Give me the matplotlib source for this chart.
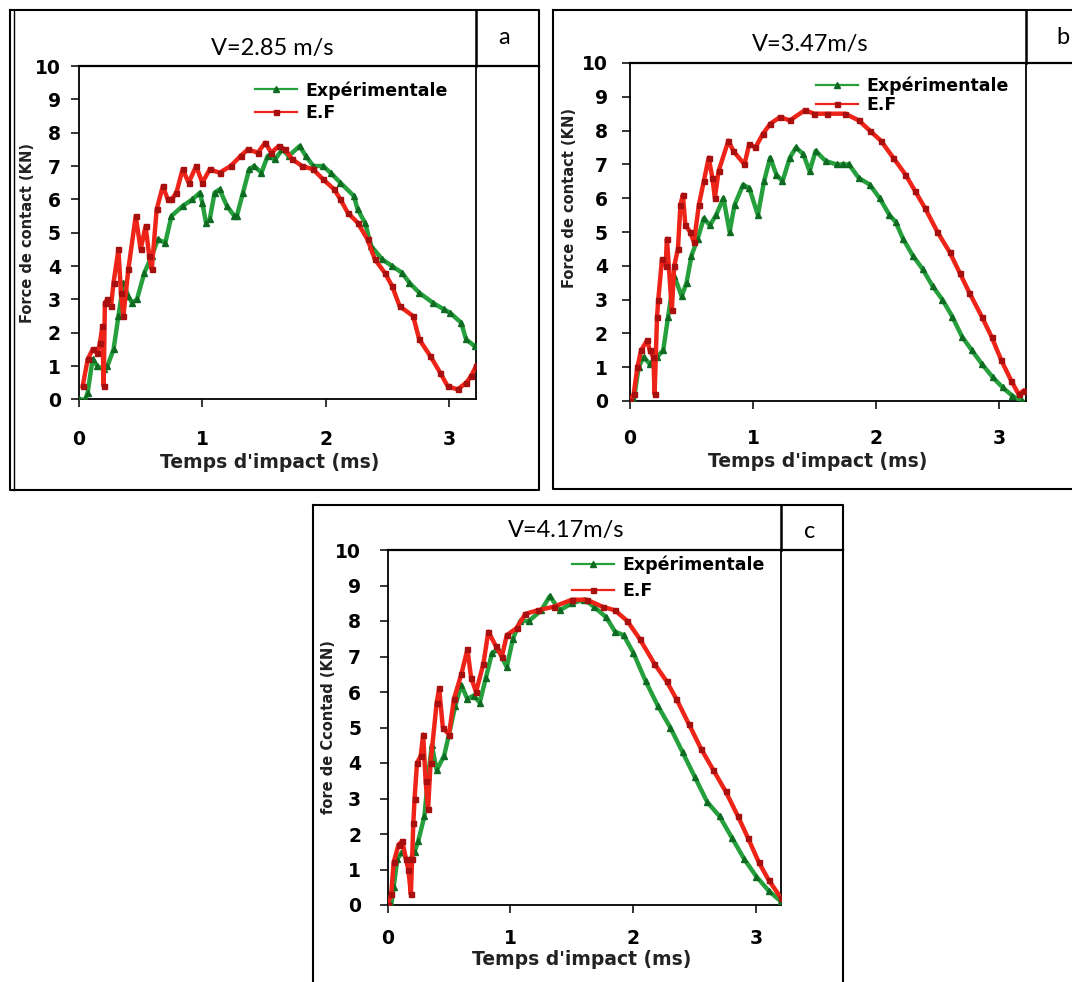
import matplotlib.pyplot as plt
from matplotlib.lines import Line2D

# ---- data (time in ms, force in kN) ----
# (a) V = 2.85 m/s
ta_exp = [0, 0.05, 0.07, 0.11, 0.15, 0.2, 0.23, 0.28, 0.32, 0.36,
          0.40, 0.43, 0.47, 0.53, 0.59, 0.64, 0.70, 0.75, 0.84, 0.92,
          0.98, 1.0, 1.03, 1.06, 1.10, 1.14, 1.20, 1.26, 1.28, 1.33,
          1.38, 1.42, 1.48, 1.53, 1.59, 1.65, 1.70, 1.79, 1.84, 1.90,
          1.98, 2.04, 2.12, 2.23, 2.26, 2.32, 2.37, 2.46, 2.54, 2.62,
          2.68, 2.76, 2.87, 2.96, 3.01, 3.10, 3.14, 3.21]
Fa_exp = [0, 0, 0.2, 1.2, 1.0, 0.9, 1.0, 1.5, 2.5, 3.5,
          3.1, 2.9, 3.0, 3.8, 4.3, 4.8, 4.7, 5.5, 5.8, 6.0,
          6.2, 5.9, 5.3, 5.4, 6.2, 6.3, 5.8, 5.5, 5.5, 6.2,
          6.9, 7.0, 6.8, 7.3, 7.2, 7.5, 7.3, 7.6, 7.3, 7.0,
          7.0, 6.8, 6.5, 6.1, 5.7, 5.3, 4.6, 4.2, 4.0, 3.8,
          3.5, 3.2, 2.9, 2.7, 2.6, 2.3, 1.8, 1.6]
ta_ef = [0.03, 0.07, 0.11, 0.15, 0.17, 0.19, 0.20, 0.21, 0.23, 0.26,
         0.28, 0.32, 0.34, 0.36, 0.40, 0.46, 0.50, 0.54, 0.57, 0.59,
         0.63, 0.68, 0.72, 0.75, 0.79, 0.84, 0.89, 0.95, 1.00, 1.06,
         1.14, 1.23, 1.31, 1.37, 1.45, 1.51, 1.56, 1.62, 1.67, 1.73,
         1.81, 1.90, 1.98, 2.07, 2.12, 2.18, 2.26, 2.34, 2.40, 2.48,
         2.54, 2.60, 2.71, 2.76, 2.85, 2.93, 2.99, 3.07, 3.14, 3.18, 3.22]
Fa_ef = [0.4, 1.2, 1.5, 1.4, 1.7, 2.2, 0.4, 2.9, 3.0, 2.8,
         3.5, 4.5, 3.2, 2.5, 3.9, 5.5, 4.5, 5.2, 4.3, 3.9,
         5.7, 6.4, 6.0, 6.0, 6.2, 6.9, 6.5, 7.0, 6.5, 6.9,
         6.8, 7.0, 7.3, 7.5, 7.4, 7.7, 7.4, 7.6, 7.5, 7.2,
         7.0, 6.9, 6.6, 6.3, 6.0, 5.6, 5.3, 4.8, 4.2, 3.8,
         3.4, 2.8, 2.5, 1.8, 1.3, 0.8, 0.4, 0.3, 0.5, 0.7, 1.0]

# (b) V = 3.47 m/s
tb_exp = [0, 0.03, 0.07, 0.11, 0.16, 0.22, 0.27, 0.31, 0.36, 0.42,
          0.46, 0.50, 0.55, 0.60, 0.65, 0.70, 0.76, 0.81, 0.85, 0.92,
          0.97, 1.04, 1.09, 1.14, 1.19, 1.24, 1.30, 1.35, 1.41, 1.46,
          1.51, 1.59, 1.68, 1.73, 1.78, 1.86, 1.95, 2.03, 2.11, 2.16,
          2.22, 2.30, 2.38, 2.46, 2.54, 2.62, 2.70, 2.78, 2.86, 2.95,
          3.03, 3.11, 3.19]
Fb_exp = [0, 0, 1.0, 1.3, 1.1, 1.3, 1.5, 2.5, 3.7, 3.1,
          3.5, 4.3, 4.8, 5.4, 5.2, 5.5, 6.0, 5.0, 5.8, 6.4,
          6.3, 5.5, 6.5, 7.2, 6.7, 6.5, 7.2, 7.5, 7.3, 6.8,
          7.4, 7.1, 7.0, 7.0, 7.0, 6.6, 6.4, 6.0, 5.5, 5.3,
          4.8, 4.3, 3.9, 3.4, 3.0, 2.5, 1.9, 1.5, 1.1, 0.7,
          0.4, 0.15, 0.0]
tb_ef = [0, 0.03, 0.06, 0.09, 0.14, 0.16, 0.19, 0.20, 0.22, 0.23,
         0.26, 0.29, 0.30, 0.34, 0.36, 0.39, 0.41, 0.43, 0.45, 0.49,
         0.52, 0.56, 0.60, 0.64, 0.67, 0.69, 0.72, 0.80, 0.84, 0.93,
         0.97, 1.02, 1.08, 1.14, 1.22, 1.30, 1.42, 1.50, 1.60, 1.75,
         1.86, 1.95, 2.04, 2.14, 2.24, 2.32, 2.40, 2.50, 2.60, 2.68,
         2.76, 2.86, 2.94, 3.02, 3.10, 3.16, 3.20]
Fb_ef = [0, 0.2, 1.0, 1.5, 1.8, 1.5, 1.3, 0.2, 2.5, 3.0,
         4.2, 4.0, 4.8, 2.7, 4.0, 4.5, 5.8, 6.1, 5.2, 5.0,
         4.7, 5.8, 6.5, 7.2, 6.6, 6.0, 6.8, 7.7, 7.4, 7.0,
         7.6, 7.5, 7.9, 8.2, 8.4, 8.3, 8.6, 8.5, 8.5, 8.5,
         8.3, 8.0, 7.7, 7.2, 6.7, 6.2, 5.7, 5.0, 4.4, 3.8,
         3.2, 2.5, 1.9, 1.2, 0.6, 0.2, 0.3]

# (c) V = 4.17 m/s
tc_exp = [0, 0.03, 0.05, 0.08, 0.12, 0.17, 0.22, 0.25, 0.30, 0.33,
          0.36, 0.40, 0.46, 0.50, 0.55, 0.60, 0.65, 0.70, 0.75, 0.80,
          0.85, 0.90, 0.97, 1.02, 1.08, 1.15, 1.25, 1.32, 1.40, 1.50,
          1.60, 1.68, 1.78, 1.85, 1.92, 2.0, 2.1, 2.2, 2.3, 2.4,
          2.5, 2.6, 2.7, 2.8, 2.9, 3.0, 3.1, 3.2]
Fc_exp = [0, 0, 0.5, 1.3, 1.5, 1.2, 1.5, 1.8, 2.5, 3.6,
          4.5, 3.8, 4.2, 4.8, 5.6, 6.2, 5.8, 5.9, 5.7, 6.4,
          7.1, 7.2, 6.7, 7.5, 8.0, 8.0, 8.3, 8.7, 8.3, 8.5,
          8.6, 8.4, 8.1, 7.7, 7.6, 7.1, 6.3, 5.6, 5.0, 4.3,
          3.6, 2.9, 2.5, 1.9, 1.3, 0.8, 0.4, 0.1]
tc_ef = [0, 0.03, 0.05, 0.09, 0.12, 0.15, 0.17, 0.19, 0.20, 0.21,
         0.22, 0.24, 0.27, 0.29, 0.31, 0.33, 0.35, 0.40, 0.42, 0.45,
         0.50, 0.54, 0.60, 0.65, 0.68, 0.72, 0.78, 0.82, 0.88, 0.93,
         0.97, 1.05, 1.12, 1.22, 1.35, 1.50, 1.62, 1.75, 1.85, 1.95,
         2.05, 2.17, 2.27, 2.35, 2.45, 2.55, 2.65, 2.75, 2.85, 2.93,
         3.02, 3.10, 3.20]
Fc_ef = [0, 0.3, 1.2, 1.7, 1.8, 1.3, 1.0, 0.3, 1.3, 2.3,
         3.0, 4.0, 4.2, 4.8, 3.5, 2.7, 4.0, 5.7, 6.1, 5.0,
         4.8, 5.8, 6.5, 7.2, 6.4, 6.0, 6.8, 7.7, 7.3, 7.0,
         7.6, 7.8, 8.2, 8.3, 8.4, 8.6, 8.6, 8.4, 8.3, 8.0,
         7.5, 6.8, 6.3, 5.8, 5.1, 4.4, 3.8, 3.2, 2.5, 1.9,
         1.2, 0.7, 0.2]

titles = ["V=2.85 m/s", "V=3.47m/s", "V=4.17m/s"]
letters = ["a", "b", "c"]
ylabels = ["Force de contact (KN)", "Force de contact (KN)", "fore de Ccontad (KN)"]
xlabel = "Temps d'impact (ms)"
legend_labels = ["Expérimentale", "E.F"]

W, H = 1072, 982
GREEN, GREEN_DK = "#25a03c", "#0f6a22"
RED, RED_DK = "#ee2418", "#a81010"


def fx(x):
    return x / W


def fy(y):
    return 1 - y / H


def line(fig, xs, ys, lw=1.6, color="black"):
    fig.add_artist(Line2D([fx(v) for v in xs], [fy(v) for v in ys],
                          transform=fig.transFigure, color=color, lw=lw))


def panel(fig, ax_px, xmax, t1, f1, t2, f2, title, letter, ylabel,
          box, title_xy, letter_xy, leg_x, leg_y, leg_space,
          xpad, ypad, xlab_pos, ylab_pos):
    left, top, right, bottom = ax_px
    ax = fig.add_axes([fx(left), fy(bottom), (right - left) / W, (bottom - top) / H])
    ax.plot(t1, f1, color=GREEN, lw=3.2, marker="^", ms=4,
            mfc=GREEN_DK, mec=GREEN_DK, label=legend_labels[0], zorder=3)
    ax.plot(t2, f2, color=RED, lw=3.2, marker="s", ms=3.6,
            mfc=RED_DK, mec=RED_DK, label=legend_labels[1], zorder=4)
    ax.set_xlim(0, xmax)
    ax.set_ylim(0, 10)
    ax.set_xticks([0, 1, 2, 3])
    ax.set_yticks(range(0, 11))
    for s in ax.spines.values():
        s.set_linewidth(1.3)
    ax.tick_params(axis="both", direction="out", length=6, width=1.1,
                   labelsize=13.5)
    ax.tick_params(axis="x", pad=xpad)
    ax.tick_params(axis="y", pad=ypad)
    for lab in ax.get_xticklabels() + ax.get_yticklabels():
        lab.set_fontweight("bold")
    ax.set_xlabel(xlabel, fontsize=13.5, fontweight="bold", color="#222222")
    ax.xaxis.set_label_coords(*xlab_pos)
    ax.set_ylabel(ylabel, fontsize=10.5, fontweight="bold", color="#222222")
    ax.yaxis.set_label_coords(*ylab_pos)
    leg = ax.legend(loc="upper left", bbox_to_anchor=(leg_x, leg_y),
                    frameon=False, numpoints=1, handlelength=2.4,
                    handletextpad=0.5, labelspacing=leg_space,
                    borderpad=0, borderaxespad=0,
                    prop={"weight": "bold", "size": 12.5})
    for h in leg.legend_handles:
        h.set_linewidth(1.6)

    # frame of the panel and the title / letter cells
    x1, y1, x2, y2 = box
    line(fig, [x1, x2, x2, x1, x1], [y1, y1, y2, y2, y1], lw=1.5)
    line(fig, [right, right], [y1, top], lw=1.8)
    line(fig, [left, x2], [top, top], lw=1.6)
    fig.text(fx(title_xy[0]), fy(title_xy[1]), title, family="Lato",
             fontsize=17, ha="center", va="center")
    fig.text(fx(letter_xy[0]), fy(letter_xy[1]), letter, family="Lato",
             fontsize=17, ha="center", va="center")
    return ax


def main():
    fig = plt.figure(figsize=(W / 100, H / 100), dpi=100)

    panel(fig, (79, 66, 476, 399.5), 3.22, ta_exp, Fa_exp, ta_ef, Fa_ef,
          titles[0], letters[0], ylabels[0],
          box=(10, 10, 539, 490), title_xy=(272, 48), letter_xy=(504, 38),
          leg_x=0.443, leg_y=0.955, leg_space=0.25,
          xpad=16, ypad=7, xlab_pos=(0.48, -0.16), ylab_pos=(-0.11, 0.5))
    # double line on the left of panel a
    line(fig, [13.5, 13.5], [10, 490], lw=1.0)

    panel(fig, (630, 63, 1026, 401), 3.22, tb_exp, Fb_exp, tb_ef, Fb_ef,
          titles[1], letters[1], ylabels[1],
          box=(553, 10, 1090, 489), title_xy=(810, 45), letter_xy=(1063, 38),
          leg_x=0.47, leg_y=0.96, leg_space=0.05,
          xpad=14, ypad=10, xlab_pos=(0.475, -0.15), ylab_pos=(-0.135, 0.6))

    panel(fig, (387.5, 550, 781, 905), 3.2, tc_exp, Fc_exp, tc_ef, Fc_ef,
          titles[2], letters[2], ylabels[2],
          box=(313, 505, 843, 995), title_xy=(566, 530), letter_xy=(810, 532),
          leg_x=0.469, leg_y=0.985, leg_space=0.45,
          xpad=11, ypad=13, xlab_pos=(0.494, -0.128), ylab_pos=(-0.13, 0.5))

    fig.savefig("out.png", dpi=100)


if __name__ == "__main__":
    main()
